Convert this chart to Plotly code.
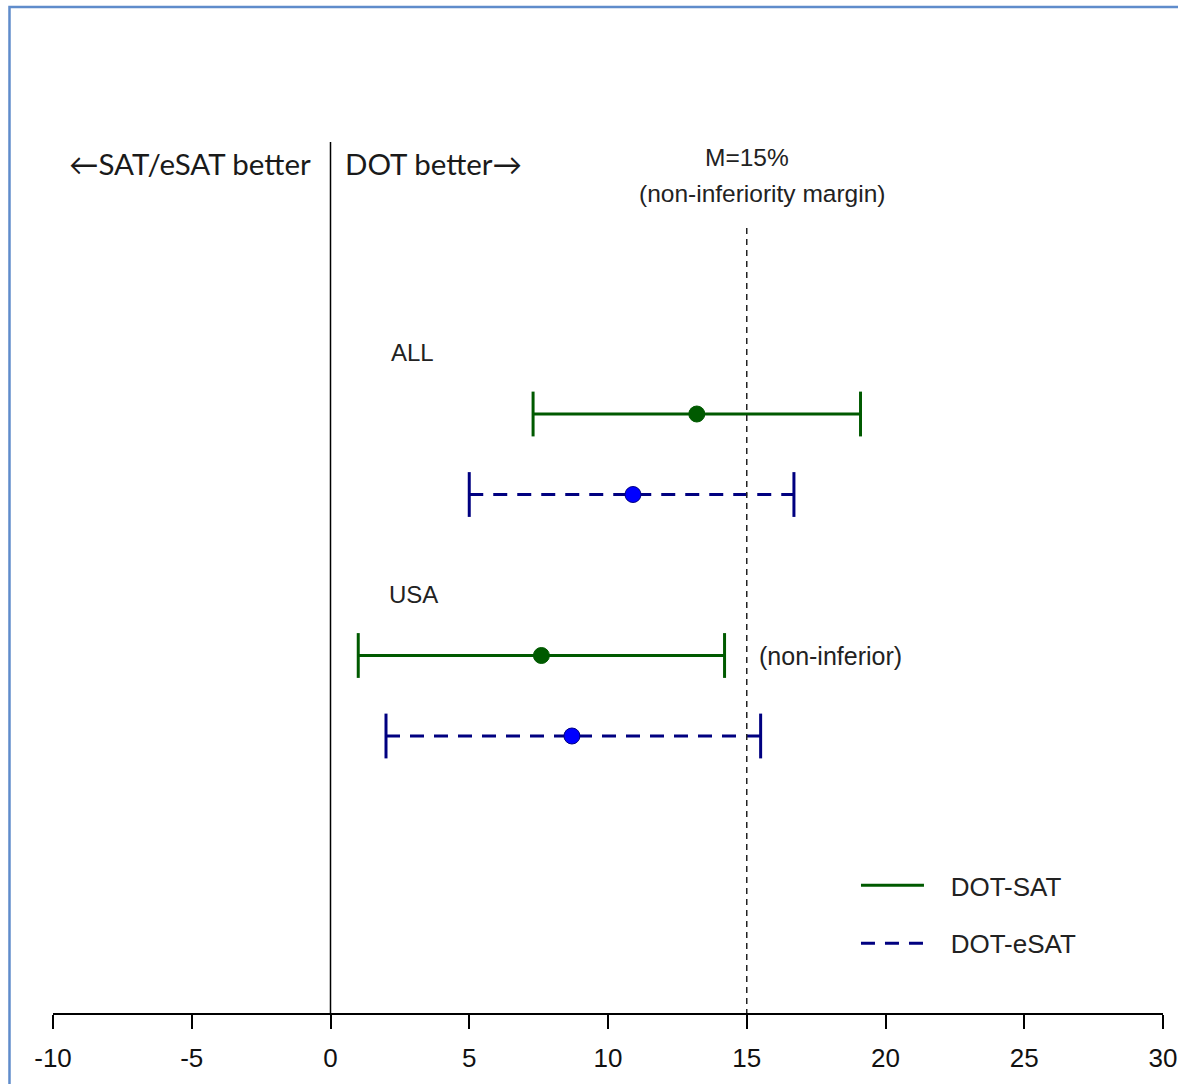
import plotly.graph_objects as go

# ---------------- data ----------------
groups = ["ALL", "ALL", "USA", "USA"]
series = ["DOT-SAT", "DOT-eSAT", "DOT-SAT", "DOT-eSAT"]
rows = [1, 2, 4, 5]                      # vertical slot of each interval
estimate = [13.2, 10.9, 7.6, 8.7]
lower = [7.3, 5.0, 1.0, 2.0]
upper = [19.1, 16.7, 14.2, 15.5]
margin_value = 15
tick_vals = [-10, -5, 0, 5, 10, 15, 20, 25, 30]
tick_text = ["-10", "-5", "0", "5", "10", "15", "20", "25", "30"]

# ---------------- styles ----------------
line_col = {"DOT-SAT": "#005a00", "DOT-eSAT": "#000080"}
pt_col = {"DOT-SAT": "#005a00", "DOT-eSAT": "#0000ff"}
dash = {"DOT-SAT": "solid", "DOT-eSAT": "14px,10px"}
ARIAL = "Liberation Sans, Arial, sans-serif"
CAL = "Lato, Open Sans, sans-serif"
NB = "\u00a0"

Y_MIN, Y_MAX = -2.379, 8.441

fig = go.Figure()
shown = set()
for g, s, r, e, lo, hi in zip(groups, series, rows, estimate, lower, upper):
    fig.add_trace(go.Scatter(
        x=[lo, hi], y=[r, r], mode="lines",
        line=dict(color=line_col[s], width=3, dash=dash[s]),
        name=NB * 3 + s, legendgroup=s, showlegend=s not in shown,
        hoverinfo="skip"))
    shown.add(s)
    fig.add_trace(go.Scatter(
        x=[lo, hi], y=[r, r], mode="markers",
        marker=dict(symbol="line-ns", size=32,
                    line=dict(color=line_col[s], width=3)),
        showlegend=False, hoverinfo="skip"))
    fig.add_trace(go.Scatter(
        x=[e], y=[r], mode="markers",
        marker=dict(symbol="circle", size=16, color=pt_col[s],
                    line=dict(color=line_col[s], width=1)),
        showlegend=False, name=f"{g} {s}"))

# vertical reference lines
fig.add_shape(type="line", xref="x", yref="y", x0=0, x1=0, y0=Y_MIN, y1=Y_MAX,
              line=dict(color="black", width=1.5))
fig.add_shape(type="line", xref="x", yref="y", x0=margin_value, x1=margin_value,
              y0=-1.31, y1=Y_MAX, line=dict(color="#222", width=1.5, dash="6px,5px"))

# frame (blue border around the picture)
fig.add_shape(type="rect", xref="paper", yref="paper",
              x0=-0.0392, x1=1.2, y0=-0.3, y1=1.155,
              line=dict(color="#5f8ccb", width=2.5))

anns = [
    dict(x=0, y=-2.106, text="←SAT/eSAT better", xanchor="right", xshift=-18,
         font=dict(family=CAL, size=29.5, color="#1a1a1a")),
    dict(x=0, y=-2.106, text="DOT better→", xanchor="left", xshift=12.5,
         font=dict(family=CAL, size=29.5, color="#1a1a1a")),
    dict(x=margin_value, y=-2.19, text="M=15%", xanchor="center",
         font=dict(family=ARIAL, size=24.5, color="#222")),
    dict(x=15.55, y=-1.745, text="(non-inferiority margin)", xanchor="center",
         font=dict(family=ARIAL, size=24.5, color="#222")),
    dict(x=2.95, y=0.242, text="ALL", xanchor="center",
         font=dict(family=ARIAL, size=24, color="#222")),
    dict(x=2.98, y=3.236, text="USA", xanchor="center",
         font=dict(family=ARIAL, size=24, color="#222")),
    dict(x=15.37, y=4, text="(non-inferior)", xanchor="left",
         font=dict(family=ARIAL, size=25, color="#222")),
]
for a in anns:
    fig.add_annotation(xref="x", yref="y", showarrow=False, **a)

fig.update_layout(
    width=1178, height=1084,
    margin=dict(l=53, r=15, t=142, b=71, autoexpand=False),
    plot_bgcolor="white", paper_bgcolor="white",
    showlegend=True,
    legend=dict(x=0.7234, y=0.1734, xanchor="left", yanchor="top",
                font=dict(family=ARIAL, size=26, color="#222"),
                itemwidth=63, tracegroupgap=21, bgcolor="rgba(0,0,0,0)"),
    xaxis=dict(range=[-10, 30], tickvals=tick_vals, ticktext=tick_text,
               automargin=False,
               showgrid=False, zeroline=False, showline=True,
               linecolor="black", linewidth=1.5, ticks="outside",
               ticklen=14, tickwidth=1.5, tickcolor="black",
               ticklabelstandoff=7,
               tickfont=dict(family=ARIAL, size=26, color="#111"),
               mirror=False),
    yaxis=dict(range=[Y_MAX, Y_MIN], visible=False, showgrid=False,
               zeroline=False, automargin=False),
)

fig.write_html(
    "out.html",
    config={"displayModeBar": False},
    post_script="document.body.style.margin='0';"
                "document.documentElement.style.overflow='hidden';",
)
